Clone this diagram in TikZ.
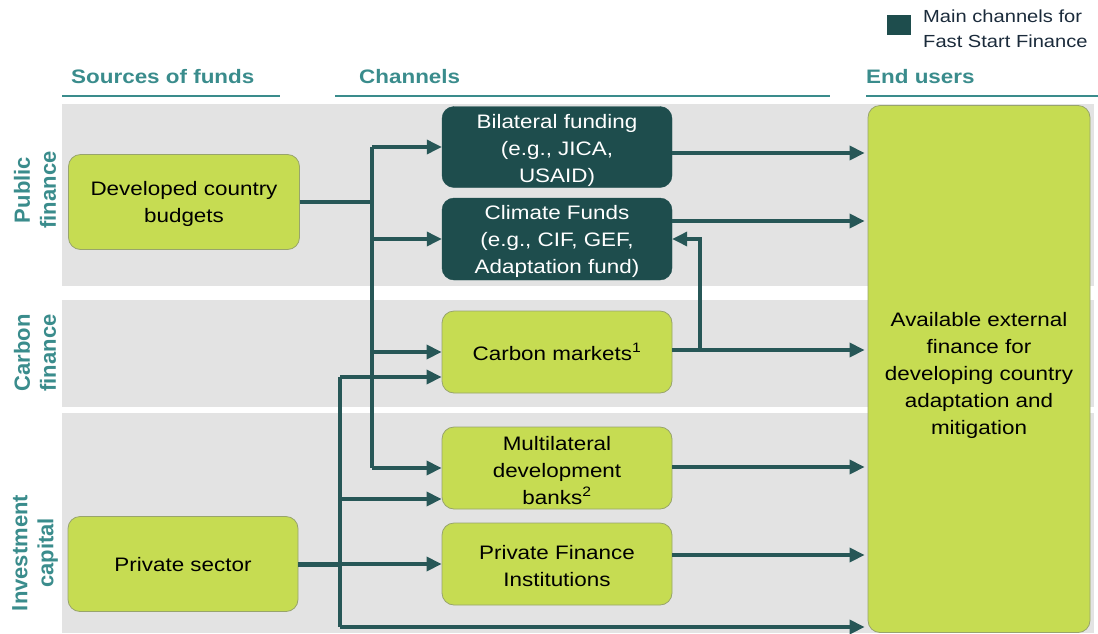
\documentclass[tikz,border=0pt]{standalone}
\usepackage{fontspec}
\setmainfont{Liberation Sans}[FakeStretch=1.15]
\newfontfamily\vfont{Liberation Sans}
\usetikzlibrary{arrows.meta}
\definecolor{band}{HTML}{E3E3E3}
\definecolor{lime}{HTML}{C6DC52}
\definecolor{limeline}{HTML}{98A46C}
\definecolor{darkteal}{HTML}{1E4D4D}
\definecolor{flow}{HTML}{275757}
\definecolor{head}{HTML}{3A8C8C}
\definecolor{legtext}{HTML}{1B2B3B}
\newcommand\tup[1]{\rule{0pt}{#1}}
\tikzset{
  bodyfont/.style={font=\fontsize{19.5}{27}\selectfont},
  greenbox/.style={bodyfont, draw=limeline, line width=0.8pt, fill=lime, rounded corners=12pt, align=center, inner sep=0pt, text=black},
  darkbox/.style={bodyfont, draw=darkteal, fill=darkteal, rounded corners=12pt, align=center, inner sep=0pt, text=white},
  flowline/.style={draw=flow, line width=3.4pt},
  flowarrow/.style={flowline, -{Triangle[length=15pt,width=14pt]}},
  header/.style={font=\fontsize{19.5}{22}\selectfont\bfseries, text=head, anchor=west, inner sep=0pt},
  headline/.style={draw=head, line width=2.5pt},
  sidelabel/.style={font=\vfont\fontsize{22}{26}\selectfont\bfseries, text=head, rotate=90, align=center, inner sep=0pt},
}
\begin{document}
\begin{tikzpicture}[x=1pt,y=-1pt]
\useasboundingbox (0,0) rectangle (1098,633);
% bands
\fill[band] (62,104) rectangle (1094,286);
\fill[band] (62,300) rectangle (1094,407);
\fill[band] (62,413) rectangle (1094,633);
% legend
\fill[darkteal] (887,15) rectangle (911,35);
\node[font=\fontsize{17.5}{25}\selectfont, text=legtext, anchor=north west, align=left, inner sep=0pt] (leg) at (923,10) {Main channels for\\Fast Start Finance};
% headers
\node[header] (hsrc) at (71,77) {Sources of funds};
\node[header] (hch) at (359,77) {Channels};
\node[header] (heu) at (866,77) {End users};
\draw[headline] (62,96) -- (280,96);
\draw[headline] (335,96) -- (830,96);
\draw[headline] (866,96) -- (1098,96);
% side labels
\node[sidelabel] (lpub) at (35,190) {Public\\finance};
\node[sidelabel] (lcar) at (35,353) {Carbon\\finance};
\node[sidelabel] (linv) at (35,553) {Investment\\capital};
% nodes
\node[greenbox, minimum width=231pt, minimum height=95pt] (dev) at (184,202) {\tup{19pt}Developed country\\budgets};
\node[greenbox, minimum width=230pt, minimum height=95pt] (ps) at (183,564) {\tup{16pt}Private sector};
\node[darkbox, minimum width=230pt, minimum height=81pt] (bil) at (557,147) {\tup{21pt}Bilateral funding\\(e.g., JICA,\\USAID)};
\node[darkbox, minimum width=230pt, minimum height=82pt] (cli) at (557,239) {\tup{20pt}Climate Funds\\(e.g., CIF, GEF,\\Adaptation fund)};
\node[greenbox, minimum width=230pt, minimum height=82pt] (car) at (557,352) {Carbon markets\textsuperscript{1}};
\node[greenbox, minimum width=230pt, minimum height=82pt] (mdb) at (557,468) {\tup{19pt}Multilateral\\development\\banks\textsuperscript{2}};
\node[greenbox, minimum width=230pt, minimum height=82pt] (pfi) at (557,564) {\tup{19pt}Private Finance\\Institutions};
\node[greenbox, minimum width=222pt, minimum height=527pt] (eu) at (979,369) {\tup{28pt}Available external\\finance for\\developing country\\adaptation and\\mitigation};
% public trunk
\coordinate (ja) at (372,202);
\coordinate (jt) at (372,147);
\coordinate (jb) at (372,468);
\draw[flowline] (dev.east) -- (ja);
\draw[flowline] (jt) -- (jb);
\draw[flowarrow] (jt) -- (bil.west);
\draw[flowarrow] (ja |- cli.west) -- (cli.west);
\draw[flowarrow] (ja |- car.west) -- (car.west);
\draw[flowarrow] (jb) -- (mdb.west);
% private trunk
\coordinate (pc) at (340,377);
\coordinate (pm) at (340,499);
\coordinate (pb) at (340,627);
\coordinate (pj) at (340,564);
\draw[flowline] (pc) -- (pb);
\draw[flowline, line width=5pt] (ps.east) -- (pj);
\draw[flowarrow] (pj) -- (pfi.west);
\draw[flowarrow] (pc) -- (pc -| car.west);
\draw[flowarrow] (pm) -- (pm -| mdb.west);
\draw[flowarrow, shorten >=3pt] (pb) -- (pb -| eu.west);
% outputs
\draw[flowarrow, shorten >=3pt] ([yshift=-6pt]bil.east) coordinate (o1) -- (o1 -| eu.west);
\draw[flowarrow, shorten >=3pt] ([yshift=18pt]cli.east) coordinate (o2) -- (o2 -| eu.west);
\draw[flowarrow, shorten >=3pt] ([yshift=2pt]car.east) coordinate (o3) -- (o3 -| eu.west);
\draw[flowarrow, shorten >=3pt] ([yshift=1pt]mdb.east) coordinate (o4) -- (o4 -| eu.west);
\draw[flowarrow, shorten >=3pt] ([yshift=9pt]pfi.east) coordinate (o5) -- (o5 -| eu.west);
% carbon to climate funds
\coordinate (cf) at (700,350);
\draw[flowarrow] (cf) |- (cli.east);
\end{tikzpicture}
\end{document}
